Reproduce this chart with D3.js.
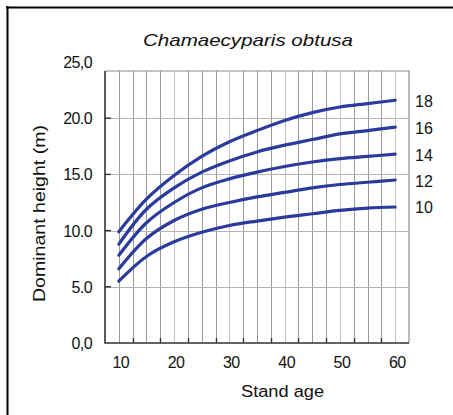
<!DOCTYPE html>
<html>
<head>
<meta charset="utf-8">
<script src="https://cdn.jsdelivr.net/npm/d3@7"></script>
<style>
  body { margin: 0; background: #fff; }
  text { font-family: "Liberation Sans", Arial, sans-serif; fill: #111; }
</style>
</head>
<body>
<script>
// stand ages where the curves were read
const ages = [10, 15, 20, 25, 30, 35, 40, 45, 50, 55, 60];
// site index curves (dominant height, m)
const si10 = [5.5, 7.7, 9.0, 9.85, 10.45, 10.85, 11.2, 11.5, 11.8, 12.0, 12.1];
const si12 = [6.6, 9.3, 10.9, 11.9, 12.5, 13.0, 13.4, 13.8, 14.1, 14.3, 14.5];
const si14 = [7.8, 10.7, 12.5, 13.8, 14.6, 15.2, 15.7, 16.1, 16.4, 16.6, 16.8];
const si16 = [8.8, 11.9, 13.8, 15.2, 16.2, 17.0, 17.6, 18.1, 18.6, 18.9, 19.2];
const si18 = [9.9, 12.8, 14.9, 16.6, 17.9, 18.9, 19.8, 20.5, 21.0, 21.3, 21.6];
const curveNames = ["10", "12", "14", "16", "18"];
const yTicks = [0, 5, 10, 15, 20, 25];
const yTickLabels = ["0,0", "5.0", "10.0", "15.0", "20.0", "25,0"];
const xTicks = [10, 20, 30, 40, 50, 60];

const series = [si10, si12, si14, si16, si18].map((v, i) => ({
  name: curveNames[i],
  pts: v.map((h, j) => [ages[j], h])
}));

const W = 453, H = 415;
const svg = d3.select("body").append("svg")
  .attr("width", W)
  .attr("height", H);

const x = d3.scaleLinear().domain([7.5, 62.5]).range([105, 409]);
const y = d3.scaleLinear().domain([0, 25]).range([343, 62]);
const plotTop = y(24.2);

// outer frame (top + left only)
svg.append("line").attr("x1", 6).attr("x2", W).attr("y1", 7.5).attr("y2", 7.5)
  .attr("stroke", "#000").attr("stroke-width", 2);
svg.append("line").attr("x1", 7.5).attr("x2", 7.5).attr("y1", 6).attr("y2", H)
  .attr("stroke", "#000").attr("stroke-width", 2);

// grid
const vgrid = d3.range(10, 60.1, 2.5);
svg.append("g").selectAll("line")
  .data(vgrid)
  .enter()
  .append("line")
  .attr("x1", d => Math.round(x(d)) + 0.5)
  .attr("x2", d => Math.round(x(d)) + 0.5)
  .attr("y1", plotTop)
  .attr("y2", y(0))
  .attr("stroke", (d, i) => (i % 4 == 0 && i > 0) ? "#c4c4c4" : "#9a9a9a")
  .attr("stroke-width", 1);

svg.append("g").selectAll("line")
  .data([5, 10, 15, 20])
  .enter()
  .append("line")
  .attr("x1", x.range()[0])
  .attr("x2", x.range()[1])
  .attr("y1", d => Math.round(y(d)) + 0.5)
  .attr("y2", d => Math.round(y(d)) + 0.5)
  .attr("stroke", "#b4b4b4")
  .attr("stroke-width", 1.2);

// plot frame
svg.append("path")
  .attr("d", `M${x.range()[0]},${plotTop}H${x.range()[1]}V${y(0)}`)
  .attr("fill", "none").attr("stroke", "#8a8a8a").attr("stroke-width", 1.2);
svg.append("path")
  .attr("d", `M${x.range()[0]},${plotTop}V${y(0)}H${x.range()[1]}`)
  .attr("fill", "none").attr("stroke", "#333").attr("stroke-width", 1.6);

// inner ticks
svg.append("g").selectAll("line")
  .data([5, 10, 15, 20])
  .enter()
  .append("line")
  .attr("x1", x.range()[0]).attr("x2", x.range()[0] + 6)
  .attr("y1", d => y(d)).attr("y2", d => y(d))
  .attr("stroke", "#333").attr("stroke-width", 1.4);
svg.append("g").selectAll("line")
  .data(d3.range(12.5, 60, 5))
  .enter()
  .append("line")
  .attr("x1", d => Math.round(x(d)) + 0.5).attr("x2", d => Math.round(x(d)) + 0.5)
  .attr("y1", y(0)).attr("y2", y(0) - 5)
  .attr("stroke", "#333").attr("stroke-width", 1.4);

// tick labels
svg.append("g").selectAll("text")
  .data(yTicks)
  .enter()
  .append("text")
  .attr("x", 92)
  .attr("y", d => y(d) + 6)
  .attr("text-anchor", "end")
  .attr("font-size", 16)
  .attr("letter-spacing", -0.6)
  .text((d, i) => yTickLabels[i]);

svg.append("g").selectAll("text")
  .data(xTicks)
  .enter()
  .append("text")
  .attr("x", d => x(d) + 2)
  .attr("y", 368)
  .attr("text-anchor", "middle")
  .attr("font-size", 16)
  .attr("letter-spacing", -0.6)
  .text(d => d);

// curves
const line = d3.line()
  .x(d => x(d[0]))
  .y(d => y(d[1]))
  .curve(d3.curveCatmullRom.alpha(0.5));

svg.append("g").selectAll("path")
  .data(series)
  .enter()
  .append("path")
  .attr("d", d => line(d.pts))
  .attr("fill", "none")
  .attr("stroke", "#2b3b9d")
  .attr("stroke-width", 3.2)
  .attr("stroke-linecap", "round");

svg.append("g").selectAll("text")
  .data(series)
  .enter()
  .append("text")
  .attr("x", 415)
  .attr("y", d => y(d.pts[d.pts.length - 1][1]) + 6.5)
  .attr("font-size", 16)
  .text(d => d.name);

// titles
svg.append("text")
  .attr("x", 143)
  .attr("y", 46)
  .attr("font-size", 17)
  .attr("font-style", "italic")
  .attr("textLength", 210)
  .attr("lengthAdjust", "spacingAndGlyphs")
  .text("Chamaecyparis obtusa");

svg.append("text")
  .attr("x", 241)
  .attr("y", 397)
  .attr("font-size", 16)
  .attr("textLength", 83)
  .attr("lengthAdjust", "spacingAndGlyphs")
  .text("Stand age");

svg.append("text")
  .attr("transform", "translate(45,302) rotate(-90)")
  .attr("font-size", 16)
  .attr("textLength", 177)
  .attr("lengthAdjust", "spacingAndGlyphs")
  .text("Dominant height (m)");
</script>
</body>
</html>
